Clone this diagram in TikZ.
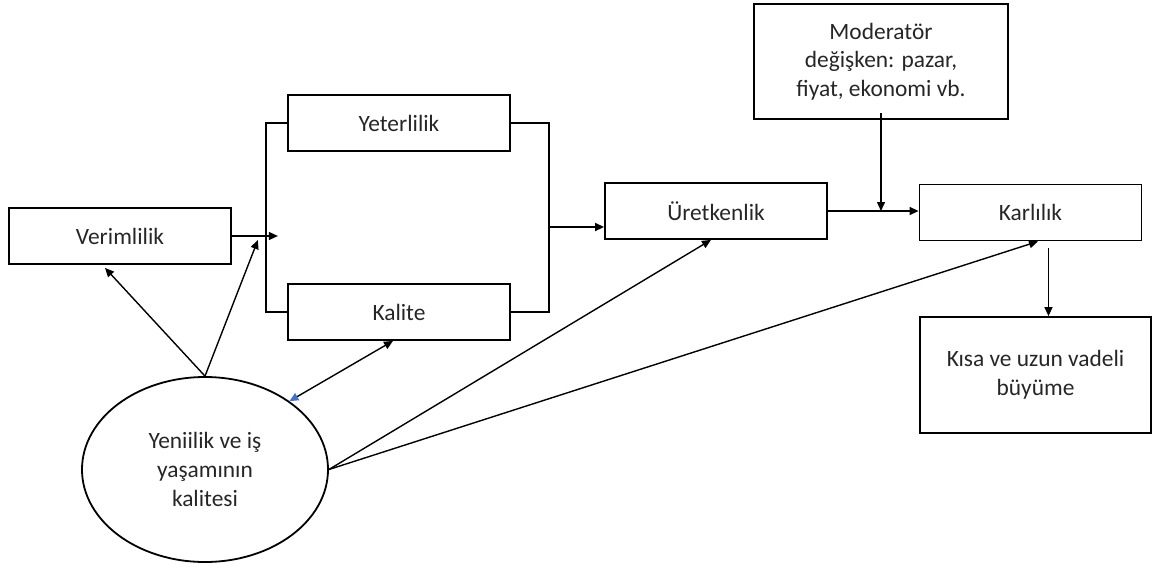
\documentclass[tikz,border=0pt]{standalone}
\usepackage{fontspec}
\setmainfont{Carlito}
\usetikzlibrary{arrows.meta,shapes.geometric}
\definecolor{wordblue}{RGB}{68,114,196}
\begin{document}
\begin{tikzpicture}[x=0.5pt,y=-0.5pt,
        varbox/.style={draw,line width=0.9pt,minimum width=111pt,minimum height=28pt,inner sep=2pt,align=center,text=black!85,font=\fontsize{11.7}{14.3}\selectfont},
        varoval/.style={ellipse,draw,line width=0.9pt,minimum width=123pt,minimum height=92.5pt,inner sep=0pt,align=center,text=black!85,font=\fontsize{11.7}{14.3}\selectfont},
        link/.style={line width=0.7pt,-{Triangle[length=4.5pt,width=4pt]}}]
        \useasboundingbox (0,0) rectangle (1153,568);

        % Boxes
        \node[varbox] (verim) at (120,236) {Verimlilik};
        \node[varbox] (yeter) at (399,123) {Yeterlilik};
        \node[varbox] (kalite) at (399,312) {Kalite};
        \node[varbox] (uret) at (716,211) {Üretkenlik};
        \node[varbox] (karl) at (1030.5,212.5) {Karlılık};
        \node[varbox,minimum width=127pt,minimum height=57.5pt] (moder) at (881,61.5) {Moderatör\\değişken: pazar,\\fiyat, ekonomi vb.};
        \node[varbox,minimum width=115.5pt,minimum height=58pt] (kisa) at (1035.5,375) {Kısa ve uzun vadeli\\büyüme};

        % Ellipse
        \node[varoval] (yeni) at (205,469.5) {Yeniilik ve iş\\yaşamının\\kalitesi};

        % Brackets
        \draw[line width=0.8pt] (yeter.west) -- ++(-21,0) |- (kalite.west);
        \draw[line width=0.8pt] (yeter.east) -- ++(38,0) |- (kalite.east);
        \coordinate (sag) at (548,227);
        \coordinate (m1) at ([yshift=3.5pt]moder.south);
        \coordinate (k1) at ([xshift=9pt,yshift=-3.5pt]karl.south);

        % Arrows
        \draw[link] (verim.east) -- ++(46,0);
        \draw[link] (sag) -- (sag -| uret.west);
        \draw[link] (uret.east) -- (uret.east -| karl.west);
        \draw[link] (m1) -- (m1 |- uret.east);
        \draw[link] (k1) -- (k1 |- kisa.north);

        % From the ellipse
        \draw[link] (yeni.north) -- ([xshift=-7.5pt,yshift=-1.5pt]verim.south);
        \draw[link] (yeni.north) -- ([xshift=13pt,yshift=-2pt]verim.east);
        \draw[line width=0.7pt,{Triangle[length=4.5pt,width=4pt,wordblue]}-{Triangle[length=4.5pt,width=4pt]}] (yeni.39) -- ([xshift=-3pt]kalite.south);
        \draw[link] (yeni.east) -- ([xshift=-2.5pt]uret.south);
        \draw[link] (yeni.east) -- ([xshift=3.75pt]karl.south);
\end{tikzpicture}
\end{document}
